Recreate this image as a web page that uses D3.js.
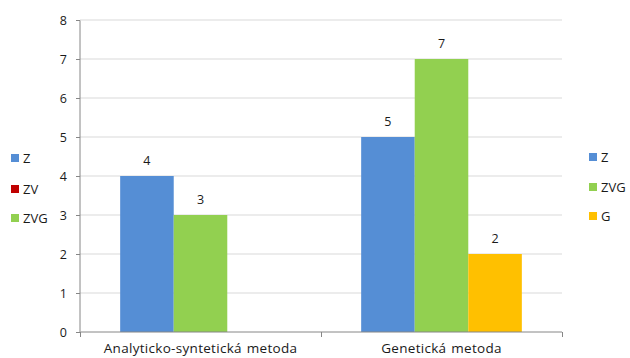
<!DOCTYPE html>
<html>
<head>
<meta charset="utf-8">
<script src="https://cdn.jsdelivr.net/npm/d3@7"></script>
<style>
  html, body { margin: 0; padding: 0; background: #fff; }
  svg text { font-family: "Open Sans", "Liberation Sans", sans-serif; fill: #1a1a1a; }
</style>
</head>
<body>
<svg id="chart" width="630" height="358"></svg>
<script>
// Categories and the series plotted in each category's slots
const categories = ["Analyticko-syntetická metoda", "Genetická metoda"];
const slotSeries = ["Z", "ZVG", "G"];
const analytickoValues = [4, 3, null];
const genetickaValues = [5, 7, 2];
const yTicks = [0, 1, 2, 3, 4, 5, 6, 7, 8];

// Legend entries (left and right blocks)
const legendLeft = ["Z", "ZV", "ZVG"];
const legendRight = ["Z", "ZVG", "G"];

const colors = { Z: "#558ED5", ZV: "#C00000", ZVG: "#92D050", G: "#FFC000" };

const svg = d3.select("#chart");
const margin = { left: 80, right: 68, top: 20, bottom: 26 };
const W = 630, H = 358;
const plotW = W - margin.left - margin.right;
const plotH = H - margin.top - margin.bottom;

const g = svg.append("g").attr("transform", `translate(${margin.left},${margin.top})`);

const y = d3.scaleLinear().domain([0, 8]).range([plotH, 0]);
const x0 = d3.scaleBand().domain(categories).range([0, plotW]).paddingInner(0).paddingOuter(0);
const x1 = d3.scaleBand().domain(slotSeries).range([0, x0.bandwidth()]).paddingOuter(0.75).paddingInner(0);

// Gridlines
g.append("g").selectAll("line").data(yTicks.filter(d => d > 0)).join("line")
  .attr("x1", 0).attr("x2", plotW)
  .attr("y1", d => y(d)).attr("y2", d => y(d))
  .attr("stroke", "#D9D9D9").attr("stroke-width", 1);

// Bars
const rows = [analytickoValues, genetickaValues];
const barData = [];
categories.forEach((c, i) => {
  slotSeries.forEach((s, j) => {
    if (rows[i][j] != null) barData.push({ cat: c, series: s, value: rows[i][j] });
  });
});

g.append("g").selectAll("rect").data(barData).join("rect")
  .attr("x", d => x0(d.cat) + x1(d.series))
  .attr("width", x1.bandwidth())
  .attr("y", d => y(d.value))
  .attr("height", d => y(0) - y(d.value))
  .attr("fill", d => colors[d.series]);

// Value labels
g.append("g").selectAll("text").data(barData).join("text")
  .attr("x", d => x0(d.cat) + x1(d.series) + x1.bandwidth() / 2)
  .attr("y", d => y(d.value) - 11)
  .attr("text-anchor", "middle")
  .attr("font-size", 12.5)
  .text(d => d.value);

// Y axis
const yAxis = g.append("g")
  .call(d3.axisLeft(y).tickValues(yTicks).tickSize(4).tickPadding(9).tickFormat(d3.format("d")));
yAxis.select(".domain").attr("stroke", "#868686").attr("d", `M0,${plotH + 0.5}V0.5`);
yAxis.selectAll(".tick line").attr("stroke", "#868686");
yAxis.selectAll(".tick text").attr("font-size", 12.5).attr("fill", "#1a1a1a")
  .style("font-family", "'Open Sans', 'Liberation Sans', sans-serif");

// X axis
const xAxis = g.append("g").attr("transform", `translate(0,${plotH})`)
  .call(d3.axisBottom(x0).tickSize(0).tickPadding(11));
xAxis.select(".domain").attr("stroke", "#868686").attr("d", `M0.5,0H${plotW}`);
xAxis.selectAll(".tick text").attr("font-size", 13.5).attr("fill", "#1a1a1a")
  .style("letter-spacing", "0.3px").style("word-spacing", "1px")
  .style("font-family", "'Open Sans', 'Liberation Sans', sans-serif");
// Category boundary ticks
g.append("g").selectAll("line").data([0, 1, 2]).join("line")
  .attr("x1", d => Math.round(d * x0.bandwidth()) + 0.5)
  .attr("x2", d => Math.round(d * x0.bandwidth()) + 0.5)
  .attr("y1", plotH).attr("y2", plotH + 5)
  .attr("stroke", "#868686");

// Legends
function drawLegend(items, lx, ys) {
  const lg = svg.append("g");
  items.forEach((name, i) => {
    lg.append("rect").attr("x", lx).attr("y", ys[i] - 4).attr("width", 8).attr("height", 8)
      .attr("fill", colors[name]);
    lg.append("text").attr("x", lx + 12).attr("y", ys[i] + 5)
      .attr("font-size", 13).text(name);
  });
}
drawLegend(legendLeft, 11, [158, 189, 218]);
drawLegend(legendRight, 589, [157, 187, 216]);
</script>
</body>
</html>
